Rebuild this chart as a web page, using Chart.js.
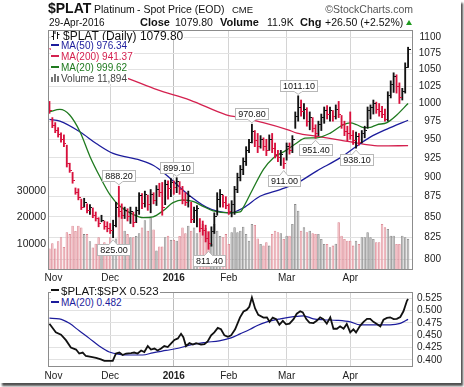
<!DOCTYPE html>
<html><head><meta charset="utf-8">
<script src="https://cdn.jsdelivr.net/npm/chart.js@4.4.0/dist/chart.umd.min.js"></script>
<style>
html,body{margin:0;padding:0;background:#fff;}
#frame{position:absolute;left:0;top:0;width:461px;height:383px;background:#fff;box-shadow:2px 3px 2px #505050;overflow:hidden;font-family:"Liberation Sans",Arial,sans-serif;color:#111;}
canvas{position:absolute;left:0;}
.t{position:absolute;white-space:nowrap;line-height:1;}
.lg{position:absolute;left:51px;background:#fff;white-space:nowrap;padding-right:1px;font-family:"Liberation Sans",Arial,sans-serif;}
.dash{display:inline-block;width:8px;height:2px;vertical-align:middle;margin-right:2px;position:relative;top:-1px;}
</style></head>
<body>
<div id="frame">
<canvas id="c1" width="441" height="284" style="top:0"></canvas>
<canvas id="c2" width="442" height="100" style="top:283px"></canvas>

<div class="t" style="left:48px;top:0.7px;font-size:14px;font-weight:bold">$PLAT</div>
<div class="t" style="left:94px;top:3.6px;font-size:10.5px">Platinum</div>
<div class="t" style="left:137px;top:3.6px;font-size:10.5px">- Spot Price (EOD)</div>
<div class="t" style="left:232px;top:4.5px;font-size:9.5px">CME</div>
<div class="t" style="right:48px;top:3.6px;font-size:10.5px;color:#555">©StockCharts.com</div>

<div class="t" style="left:49px;top:17.5px;font-size:10px">29-Apr-2016</div>
<div class="t" style="left:140px;top:16.7px;font-size:11px;font-weight:bold">Close</div>
<div class="t" style="left:175px;top:17.1px;font-size:10.5px">1079.80</div>
<div class="t" style="left:220px;top:16.7px;font-size:11px;font-weight:bold">Volume</div>
<div class="t" style="left:267px;top:17.1px;font-size:10.5px">11.9K</div>
<div class="t" style="left:300px;top:16.7px;font-size:11px;font-weight:bold">Chg</div>
<div class="t" style="left:325px;top:17.1px;font-size:10.5px">+26.50 (+2.52%)</div>
<div style="position:absolute;left:406px;top:20px;width:0;height:0;border-left:3.5px solid transparent;border-right:3.5px solid transparent;border-bottom:5px solid #1e9a1e"></div>

<div class="lg" style="top:31px;height:9px;line-height:9px;font-size:12px;color:#111"><svg width="10" height="9" style="vertical-align:0;margin-right:2px"><path d="M2.5 0V9M0.5 5.5H2.5M6.5 1V8M6.5 3.5H8.5M4 0V3" stroke="#111" fill="none" stroke-width="1"/></svg>$PLAT (Daily) 1079.80</div>
<div class="lg" style="top:40px;height:11px;line-height:11px;font-size:10px;color:#1c1c9c"><span class="dash" style="background:#1c1c9c"></span>MA(50) 976.34</div>
<div class="lg" style="top:51px;height:11px;line-height:11px;font-size:10px;color:#d4214f"><span class="dash" style="background:#d4214f"></span>MA(200) 941.37</div>
<div class="lg" style="top:62px;height:11px;line-height:11px;font-size:10px;color:#1f7a1f"><span class="dash" style="background:#1f7a1f"></span>MA(20) 999.62</div>
<div class="lg" style="top:73px;height:11px;line-height:11px;font-size:10px;color:#444"><svg width="9" height="8" style="vertical-align:0;margin-right:1px"><rect x="0" y="3" width="2" height="5" fill="#777"/><rect x="3" y="0" width="2" height="8" fill="#777"/><rect x="6" y="2" width="2" height="6" fill="#777"/></svg>Volume 11,894</div>

<div class="lg" style="top:285.5px;height:11px;line-height:11px;font-size:11.5px;color:#111"><span class="dash" style="background:#111"></span>$PLAT:$SPX 0.523</div>
<div class="lg" style="top:296.5px;height:11px;line-height:11px;font-size:10px;color:#1c1c9c"><span class="dash" style="background:#1c1c9c"></span>MA(20) 0.482</div>
</div>

<script>
// ---------- data ----------
const monthTicks  = [1.4, 21, 43, 62, 82, 104];
const monthLabels = ['Nov', 'Dec', '2016', 'Feb', 'Mar', 'Apr'];
const priceTicks  = [800, 825, 850, 875, 900, 925, 950, 975, 1000, 1025, 1050, 1075, 1100];
const volumeTicks = [10000, 20000, 30000];
const ratioTicks  = [0.400, 0.425, 0.450, 0.475, 0.500, 0.525];
const priorClose  = 1000;

const highs = [1003,980,973,966,959,956,942,918,906,886, 885,872,873,866,865,861,856,849,852,845,
  844,842,846,868,888.2,866,862,860,862,856, 862,880,879,882,877,884,880,889,892,893,
  896,895,898,895,899.1,894,888,880,882,868, 862,864,848,845,840,832,838,855,880,884,
  877,875,866,870,888,905,915,925,940,950, 970.8,962,958,955,952,950,956,958,945,935,
  935,925,945,945,955,988,1011.1,1005,1000,994, 988,980,970,975,985,995,997,995,990,998,
  1003,983,975,968,988,962,960,958,962,968, 995,998,1005,1002,1000,996,992,1017,1033,1045,
  1042,1030,1022,1060,1084];
const lows = [986,966,959,953,946,940,913,906,892,878, 871,859,862,855,853,849,845,838,844,835,
  832,830,825,838,850,848,848,845,842,838, 843,853,860,862,858,855,866,864,875,852,
  865,872,875,878,880,878,866,864,862,843, 843,838,832,828,820,811.4,815,830,852,862,
  862,860,853,850,853,880,895,903,915,932, 945,940,932,938,935,928,935,932,925,920,
  915,911,922,930,932,965,975,982,978,968, 963,960,951.4,955,962,972,978,975,975,978,
  980,965,955,948,950,943,938.1,942,945,952, 965,978,985,986,982,980,975,975,1008,1016,
  1015,1000,1005,1015,1053];
const closes = [990,969,962,957,950,944,918,909,895,880, 874,862,868,858,861,852,848,842,846,838,
  836,834,840,862,856,852,858,850,857,843, 858,876,866,878,865,878,870,884,880,862,
  890,885,893,886,894,884,870,868,875,847, 858,860,836,833,824,818,832,850,872,878,
  868,864,857,865,884,900,910,920,935,945, 960,948,940,950,940,935,950,938,930,925,
  930,918,940,935,950,982,995,988,992,975, 980,965,958,970,980,990,985,990,982,992,
  985,970,960,958,955,948,954,946,958,962, 990,994,1000,992,988,984,978,1012,1028,1040,
  1025,1008,1018,1053.3,1079.8];
const volumes = [8200,10200,8200,11000,12500,8800,14400,13700,16900,14900, 16900,16200,13700,13700,11000,8600,10000,12500,8600,10600,
  10000,12500,9300,12000,23250,22000,15000,13700,12500,12500, 13000,14000,16200,19000,15000,20000,15500,7400,9000,9000,
  12500,13100,11500,11500,11200,13000,16200,14000,16900,15000, 16200,14000,14400,17600,16000,15000,10000,17600,15000,13000,
  12500,13700,9950,14380,16280,14380,15000,16500,13750,11210, 17550,17200,12000,9950,9310,10580,9310,13750,15010,14380,
  14000,11850,13110,13110,17550,25150,22620,15010,16280,14380, 15010,14000,13750,13750,11850,9950,9950,8680,9310,10000,
  18180,13110,11850,11210,11210,9310,11210,9950,12480,12480, 14380,12500,11850,10580,10580,17550,16280,15650,13110,13110,
  9950,9950,13110,12480,11894];

const ma20 = [[0,988],[3.6,991.5],[7,983.7],[10.6,960],[14,927],[17.5,900],[20.9,877.6],[24.4,863],[28.9,853],[32.4,849],
  [35.8,850],[39.3,857.5],[42.7,867.5],[46.2,871],[49.6,869],[53.1,863],[56.6,857.5],[62.5,855],[65.9,856],[67.4,864],
  [70.5,886],[74,910],[77.4,925],[81.8,935],[85.5,945],[88.4,951.6],[92.5,952],[97.1,958.5],[101.6,970],[104,972.5],
  [106.3,970],[108.6,966],[111,966.5],[113.2,970],[116.7,973],[120.1,983.7],[124,1000]];
const ma50 = [[0,977.5],[3.6,975],[10.6,960],[16.3,944],[22,931],[31.3,922],[36,915],[40.3,903],[47.2,880],[54.2,862],
  [58,857],[62.5,855],[67,861],[72.8,875.5],[79.8,884],[85.5,892],[92.5,908],[100.5,925],[106.3,941],[110.9,953],
  [116.7,964],[124,976.3]];
const ma200 = [[0,1082],[10.7,1060],[26.8,1037],[37.2,1020],[48.6,1005],[61.1,984],[65.9,980],[73.9,973],[82.5,963],
  [85.6,958.5],[92.5,954],[100.5,949],[108.5,943.5],[114.4,941],[124,941.4]];

const ratio = [[0,0.473],[2.2,0.456],[4,0.451],[5.7,0.440],[7.4,0.425],[9.2,0.421],[10.3,0.413],[11.5,0.415],[12.6,0.408],
  [14.4,0.406],[16.1,0.404],[17.8,0.401],[19,0.398],[21.9,0.398],[23,0.413],[24.2,0.415],[25.3,0.410],[26.5,0.413],
  [28.2,0.414],[29.3,0.415],[30.5,0.413],[31.7,0.419],[32.8,0.416],[34,0.428],[35.1,0.421],[36.3,0.423],[37.4,0.419],
  [38.6,0.423],[39.7,0.428],[40.9,0.426],[42,0.433],[43.2,0.4405],[44.4,0.4435],[45.5,0.4527],[46.3,0.446],[47.2,0.428],
  [48.4,0.434],[49.6,0.431],[50.7,0.434],[52.4,0.431],[53.6,0.432],[54.7,0.4375],[55.9,0.4496],[57,0.4557],[58.2,0.4648],
  [59.3,0.462],[60.5,0.4496],[61.7,0.4466],[62.8,0.4496],[64.2,0.462],[65.9,0.486],[67.1,0.498],[68.2,0.501],[69.1,0.5075],
  [70,0.526],[71.1,0.504],[72.2,0.491],[74,0.4856],[75.2,0.486],[76.1,0.477],[77.2,0.4856],[78.4,0.4825],[79.5,0.471],
  [80.7,0.479],[81.8,0.472],[83,0.4734],[84.4,0.4825],[85.5,0.4934],[86.7,0.4983],[87.6,0.496],[88.8,0.4825],[89.9,0.4752],
  [91.3,0.4745],[92.5,0.4795],[93.6,0.4861],[94.7,0.4825],[95.9,0.4734],[97.1,0.4861],[98.2,0.463],[99.4,0.463],
  [100.5,0.4679],[101.7,0.463],[102.8,0.4728],[104,0.4557],[105.1,0.4619],[106,0.4557],[107.4,0.469],[108.6,0.477],
  [109.8,0.483],[110.9,0.483],[112,0.477],[113.2,0.4728],[114.4,0.4679],[115.5,0.4812],[116.7,0.4849],[117.8,0.4861],
  [119,0.4825],[120.1,0.483],[121.3,0.4868],[122.4,0.4983],[123.6,0.5195],[124,0.523]];
const ratioMa20 = [[0,0.4843],[3.4,0.483],[6.9,0.4739],[10.3,0.4588],[13.8,0.4436],[17.2,0.4283],[20.7,0.4162],
  [24.2,0.4113],[27.6,0.410],[32.2,0.410],[35.7,0.4144],[40.3,0.4192],[44.9,0.4241],[49.5,0.4314],[54.2,0.4356],
  [58.7,0.4387],[62.8,0.4447],[65.9,0.4527],[69.4,0.4619],[71.7,0.4692],[75.2,0.477],[79.8,0.483],[84.4,0.4874],
  [87.8,0.4892],[91.3,0.483],[94.7,0.4812],[99.4,0.4801],[104,0.477],[107.4,0.471],[112,0.471],[117.8,0.471],
  [121.3,0.4739],[124,0.482]];

const swingLabels = [[24,888.20,'high'],[22,825.00,'low'],[44,899.10,'high'],[55,811.40,'low'],[70,970.80,'high'],
  [81,911.00,'low'],[86,1011.10,'high'],[92,951.40,'low'],[106,938.10,'low']];

// ---------- styling ----------
const FONT = '"Liberation Sans", Arial, sans-serif';
const RED = '#d8103c', BLACK = '#111111';
const C_MA20 = '#1f7a1f', C_MA50 = '#1c1c9c', C_MA200 = '#d4214f';

const idx = closes.map((_, i) => i);
const isDown = closes.map((c, i) => c < (i === 0 ? priorClose : closes[i - 1]));
function tickImg(color) {
  const c = document.createElement('canvas'); c.width = 5; c.height = 1;
  const g = c.getContext('2d'); g.fillStyle = color; g.fillRect(3, 0, 2, 1); return c;
}
const tickRed = tickImg(RED), tickBlack = tickImg(BLACK);
const pairs = a => a.map(([x, y]) => ({x, y}));

function drawFrame(chart) {
  const {ctx, chartArea: a} = chart; ctx.save(); ctx.strokeStyle = '#8c8c8c'; ctx.lineWidth = 1;
  ctx.strokeRect(Math.round(a.left) + 0.5, Math.round(a.top) + 0.5, Math.round(a.right - a.left) - 1, Math.round(a.bottom - a.top) - 1);
  ctx.restore();
}
const framePlugin = { id: 'plotFrame', afterDatasetsDraw(chart) { drawFrame(chart); } };

const swingPlugin = { id: 'swings', afterDatasetsDraw(chart) {
  const xs = chart.scales.x, ys = chart.scales.y, ctx = chart.ctx;
  ctx.save(); ctx.font = '9px ' + FONT; ctx.textAlign = 'center'; ctx.textBaseline = 'middle'; ctx.lineWidth = 1;
  swingLabels.forEach(([i, v, side]) => {
    const x = xs.getPixelForValue(i), y = ys.getPixelForValue(v);
    const txt = v.toFixed(2);
    const w = Math.round(ctx.measureText(txt).width) + 5, h = 11;
    const bx = Math.round(x - w / 2) + 0.5;
    let by, baseY, tipY;
    if (side === 'high') { by = Math.round(y - 5 - h) + 0.5; baseY = by + h; tipY = y - 1.5; }
    else { by = Math.round(y + 6) + 0.5; baseY = by; tipY = y + 2; }
    ctx.fillStyle = '#fff'; ctx.strokeStyle = '#b8b8b8';
    ctx.fillRect(bx, by, w, h); ctx.strokeRect(bx, by, w, h);
    ctx.beginPath(); ctx.moveTo(x - 4, baseY); ctx.lineTo(x, tipY); ctx.lineTo(x + 4, baseY); ctx.closePath(); ctx.fill();
    ctx.beginPath(); ctx.moveTo(x - 4, baseY); ctx.lineTo(x, tipY); ctx.lineTo(x + 4, baseY); ctx.stroke();
    ctx.fillRect(x - 3.5, baseY - 0.5, 7, 1);
    ctx.fillStyle = '#111'; ctx.fillText(txt, bx + w / 2, by + h / 2 + 0.5);
  });
  ctx.restore(); } };

const xScale = (pad, h) => ({
  type: 'linear', min: -0.5, max: 125.7, position: 'bottom', offset: false,
  afterBuildTicks: s => { s.ticks = monthTicks.map(v => ({value: v})); },
  afterFit: s => { s.height = h; },
  ticks: { autoSkip: false, maxRotation: 0, padding: pad, color: '#222',
    callback: v => monthLabels[monthTicks.indexOf(v)],
    font: c => ({family: FONT, size: 10, weight: (c.tick && c.tick.value === 43) ? 'bold' : 'normal'}) },
  grid: { drawTicks: false, offset: false, color: c => (!c.tick || c.tick.value === 1.4) ? 'rgba(0,0,0,0)' : (c.tick.value === 43 ? '#bcbcbc' : '#d4d4d4') },
  border: { display: false }
});

new Chart(document.getElementById('c1'), {
  type: 'bar',
  data: { datasets: [
    { type: 'scatter', data: idx.map(i => ({x: i, y: closes[i]})), yAxisID: 'y', order: 0,
      pointStyle: isDown.map(d => d ? tickRed : tickBlack), pointRadius: 3 },
    { type: 'bar', data: idx.map(i => ({x: i, y: [lows[i], highs[i]]})), yAxisID: 'y', order: 1,
      backgroundColor: isDown.map(d => d ? RED : BLACK), barThickness: 1.2, grouped: false },
    { type: 'line', data: pairs(ma20), yAxisID: 'y', order: 2, borderColor: C_MA20, borderWidth: 1.3, pointRadius: 0, cubicInterpolationMode: 'monotone' },
    { type: 'line', data: pairs(ma50), yAxisID: 'y', order: 3, borderColor: C_MA50, borderWidth: 1.3, pointRadius: 0, cubicInterpolationMode: 'monotone' },
    { type: 'line', data: pairs(ma200), yAxisID: 'y', order: 4, borderColor: C_MA200, borderWidth: 1.3, pointRadius: 0, cubicInterpolationMode: 'monotone' },
    { type: 'bar', data: idx.map(i => ({x: i, y: volumes[i]})), yAxisID: 'yVol', order: 10, grouped: false,
      backgroundColor: isDown.map(d => d ? '#f0b6bd' : '#b5b5b5'), borderColor: isDown.map(d => d ? '#d9808c' : '#858585'),
      borderWidth: 0.8, barPercentage: 0.85, categoryPercentage: 1 }
  ]},
  options: {
    responsive: false, animation: false, events: [],
    layout: { padding: {top: 30, left: 0, right: 0, bottom: 0} },
    plugins: { legend: {display: false}, tooltip: {enabled: false} },
    scales: {
      x: xScale(2, 14),
      y: { type: 'logarithmic', position: 'right', min: 787.7, max: 1111.1, offset: false,
        afterBuildTicks: s => { s.ticks = priceTicks.map(v => ({value: v})); },
        afterFit: s => { s.width = 28; },
        ticks: { callback: v => String(v), padding: 6, crossAlign: 'far', color: '#222', font: {family: FONT, size: 10} },
        grid: { color: '#e2e2e2', drawTicks: false }, border: { display: false } },
      yVol: { type: 'linear', position: 'left', min: 0, max: 91600, offset: false,
        afterBuildTicks: s => { s.ticks = volumeTicks.map(v => ({value: v})); },
        afterFit: s => { s.width = 48; },
        ticks: { callback: v => String(v), padding: 2, color: '#222', font: {family: FONT, size: 10.5} },
        grid: { drawOnChartArea: false, drawTicks: false }, border: { display: false } }
    }
  },
  plugins: [framePlugin, swingPlugin]
});

new Chart(document.getElementById('c2'), {
  type: 'line',
  data: { datasets: [
    { data: pairs(ratio), borderColor: '#111', borderWidth: 1.8, pointRadius: 0, tension: 0, order: 0 },
    { data: pairs(ratioMa20), borderColor: C_MA50, borderWidth: 1.2, pointRadius: 0, cubicInterpolationMode: 'monotone', order: 1 }
  ]},
  options: {
    responsive: false, animation: false, events: [],
    layout: { padding: {top: 1, left: 48, right: 0, bottom: 0} },
    plugins: { legend: {display: false}, tooltip: {enabled: false} },
    scales: {
      x: xScale(3, 16),
      y: { type: 'linear', position: 'right', min: 0.38577, max: 0.53723, offset: false,
        afterBuildTicks: s => { s.ticks = ratioTicks.map(v => ({value: v})); },
        afterFit: s => { s.width = 29; },
        ticks: { callback: v => v.toFixed(3), padding: 3, crossAlign: 'far', color: '#222', font: {family: FONT, size: 10} },
        grid: { color: '#e2e2e2', drawTicks: false }, border: { display: false } }
    }
  },
  plugins: [framePlugin]
});
</script>
</body></html>
